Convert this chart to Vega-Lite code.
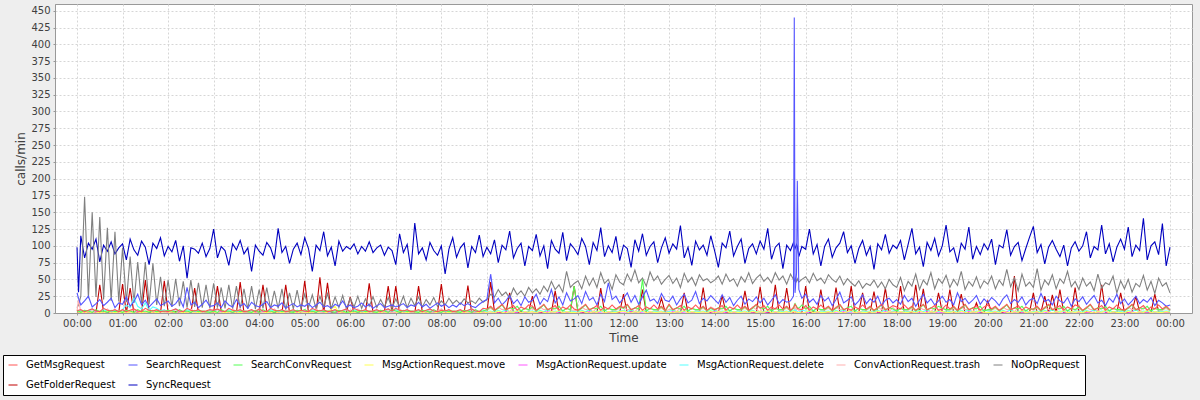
{
"$schema": "https://vega.github.io/schema/vega-lite/v6.json",
"width": 1137, "height": 309,
"autosize": {"type": "none"},
"padding": {"left": 55, "top": 4, "right": 8, "bottom": 87},
"background": "#eeeeee",
"config": {
  "view": {"fill": "white", "stroke": "#999999"},
  "font": "DejaVu Sans",
  "axis": {"labelFont": "DejaVu Sans", "labelFontSize": 10, "labelColor": "#404040", "titleFont": "DejaVu Sans", "titleFontSize": 12, "titleFontWeight": "normal", "titleColor": "#404040", "domainColor": "#999999", "tickColor": "#999999", "tickSize": 2, "gridColor": "#d6d6d6", "gridDash": [2, 2], "gridWidth": 1}
},
"datasets": {
"names": [
{"k":"g","name":"GetMsgRequest"},{"k":"q","name":"SearchRequest"},{"k":"c","name":"SearchConvRequest"},{"k":"y","name":"MsgActionRequest.move"},{"k":"u","name":"MsgActionRequest.update"},{"k":"d","name":"MsgActionRequest.delete"},{"k":"r","name":"ConvActionRequest.trash"},{"k":"n","name":"NoOpRequest"},{"k":"f","name":"GetFolderRequest"},{"k":"s","name":"SyncRequest"}
],
"rows": [
{"m":0,"s":98,"n":8,"q":30,"g":3,"f":1,"c":2,"y":0,"u":0,"d":2,"r":3},
{"m":2,"s":31,"n":12,"q":22,"g":4,"f":0,"c":3,"y":0,"u":0,"d":3,"r":20},
{"m":5,"s":115,"n":25,"q":12,"g":5,"f":0,"c":1,"y":1,"u":0,"d":4,"r":1},
{"m":10,"s":82,"n":173,"q":18,"g":2,"f":2,"c":4,"y":0,"u":1,"d":1,"r":4},
{"m":15,"s":104,"n":22,"q":25,"g":4,"f":0,"c":3,"y":2,"u":0,"d":3,"r":2},
{"m":20,"s":95,"n":150,"q":9,"g":6,"f":1,"c":1,"y":0,"u":0,"d":6,"r":5},
{"m":25,"s":110,"n":24,"q":14,"g":3,"f":0,"c":5,"y":0,"u":2,"d":2,"r":2},
{"m":30,"s":76,"n":143,"q":20,"g":2,"f":42,"c":2,"y":1,"u":0,"d":1,"r":3},
{"m":35,"s":101,"n":20,"q":11,"g":7,"f":1,"c":3,"y":0,"u":1,"d":5,"r":1},
{"m":40,"s":92,"n":127,"q":16,"g":4,"f":0,"c":1,"y":3,"u":0,"d":3,"r":6},
{"m":45,"s":106,"n":18,"q":22,"g":3,"f":2,"c":4,"y":0,"u":0,"d":2,"r":2},
{"m":50,"s":88,"n":121,"q":8,"g":5,"f":0,"c":2,"y":1,"u":1,"d":4,"r":4},
{"m":55,"s":97,"n":17,"q":15,"g":2,"f":1,"c":3,"y":0,"u":0,"d":1,"r":3},
{"m":60,"s":103,"n":97,"q":13,"g":5,"f":43,"c":1,"y":1,"u":0,"d":5,"r":1},
{"m":65,"s":79,"n":16,"q":24,"g":2,"f":0,"c":4,"y":0,"u":1,"d":12,"r":4},
{"m":70,"s":110,"n":84,"q":10,"g":4,"f":37,"c":3,"y":2,"u":0,"d":8,"r":2},
{"m":75,"s":94,"n":15,"q":17,"g":6,"f":0,"c":1,"y":0,"u":0,"d":22,"r":5},
{"m":80,"s":86,"n":76,"q":28,"g":3,"f":1,"c":5,"y":0,"u":2,"d":10,"r":2},
{"m":85,"s":107,"n":14,"q":12,"g":2,"f":0,"c":2,"y":1,"u":0,"d":6,"r":3},
{"m":90,"s":98,"n":76,"q":19,"g":7,"f":49,"c":3,"y":0,"u":1,"d":15,"r":1},
{"m":95,"s":72,"n":13,"q":9,"g":4,"f":1,"c":1,"y":3,"u":0,"d":4,"r":6},
{"m":100,"s":104,"n":74,"q":15,"g":3,"f":0,"c":4,"y":0,"u":0,"d":9,"r":2},
{"m":105,"s":96,"n":12,"q":21,"g":5,"f":2,"c":2,"y":1,"u":1,"d":7,"r":4},
{"m":110,"s":112,"n":54,"q":11,"g":2,"f":0,"c":3,"y":0,"u":0,"d":3,"r":3},
{"m":115,"s":85,"n":10,"q":14,"g":3,"f":48,"c":2,"y":0,"u":0,"d":5,"r":3},
{"m":120,"s":99,"n":49,"q":18,"g":2,"f":1,"c":4,"y":0,"u":1,"d":1,"r":4},
{"m":125,"s":91,"n":9,"q":10,"g":4,"f":0,"c":3,"y":2,"u":0,"d":3,"r":2},
{"m":130,"s":108,"n":51,"q":14,"g":6,"f":2,"c":1,"y":0,"u":0,"d":6,"r":5},
{"m":135,"s":77,"n":10,"q":22,"g":3,"f":0,"c":5,"y":0,"u":2,"d":2,"r":2},
{"m":140,"s":100,"n":47,"q":9,"g":2,"f":1,"c":2,"y":1,"u":0,"d":1,"r":3},
{"m":145,"s":52,"n":8,"q":38,"g":7,"f":0,"c":3,"y":0,"u":1,"d":5,"r":1},
{"m":150,"s":97,"n":49,"q":12,"g":4,"f":0,"c":1,"y":3,"u":0,"d":3,"r":6},
{"m":155,"s":95,"n":9,"q":16,"g":3,"f":37,"c":4,"y":0,"u":0,"d":2,"r":2},
{"m":160,"s":89,"n":45,"q":8,"g":5,"f":0,"c":2,"y":1,"u":1,"d":4,"r":4},
{"m":165,"s":104,"n":8,"q":13,"g":2,"f":2,"c":3,"y":0,"u":0,"d":1,"r":3},
{"m":170,"s":84,"n":42,"q":19,"g":3,"f":0,"c":2,"y":0,"u":0,"d":2,"r":3},
{"m":175,"s":96,"n":7,"q":10,"g":5,"f":1,"c":1,"y":1,"u":0,"d":4,"r":1},
{"m":180,"s":125,"n":44,"q":11,"g":4,"f":1,"c":3,"y":2,"u":0,"d":3,"r":2},
{"m":185,"s":82,"n":8,"q":15,"g":6,"f":40,"c":1,"y":0,"u":0,"d":6,"r":5},
{"m":190,"s":99,"n":38,"q":8,"g":3,"f":2,"c":5,"y":0,"u":2,"d":2,"r":2},
{"m":195,"s":93,"n":7,"q":18,"g":2,"f":0,"c":2,"y":1,"u":0,"d":1,"r":3},
{"m":200,"s":71,"n":42,"q":12,"g":7,"f":1,"c":3,"y":0,"u":1,"d":5,"r":1},
{"m":205,"s":103,"n":6,"q":9,"g":4,"f":0,"c":1,"y":3,"u":0,"d":3,"r":6},
{"m":210,"s":94,"n":40,"q":20,"g":3,"f":0,"c":4,"y":0,"u":0,"d":2,"r":2},
{"m":215,"s":108,"n":7,"q":10,"g":5,"f":46,"c":2,"y":1,"u":1,"d":4,"r":4},
{"m":220,"s":88,"n":36,"q":14,"g":2,"f":0,"c":3,"y":0,"u":0,"d":1,"r":3},
{"m":225,"s":97,"n":6,"q":7,"g":3,"f":2,"c":2,"y":0,"u":0,"d":2,"r":3},
{"m":230,"s":62,"n":40,"q":16,"g":5,"f":0,"c":1,"y":1,"u":0,"d":4,"r":1},
{"m":235,"s":101,"n":6,"q":11,"g":2,"f":1,"c":4,"y":0,"u":1,"d":1,"r":4},
{"m":240,"s":92,"n":35,"q":9,"g":6,"f":1,"c":1,"y":0,"u":0,"d":6,"r":5},
{"m":245,"s":86,"n":7,"q":13,"g":3,"f":42,"c":5,"y":0,"u":2,"d":2,"r":2},
{"m":250,"s":105,"n":38,"q":17,"g":2,"f":2,"c":2,"y":1,"u":0,"d":1,"r":3},
{"m":255,"s":97,"n":6,"q":8,"g":7,"f":0,"c":3,"y":0,"u":1,"d":5,"r":1},
{"m":260,"s":80,"n":33,"q":12,"g":4,"f":1,"c":1,"y":3,"u":0,"d":3,"r":6},
{"m":265,"s":126,"n":7,"q":10,"g":3,"f":0,"c":4,"y":0,"u":0,"d":2,"r":2},
{"m":270,"s":90,"n":36,"q":15,"g":5,"f":0,"c":2,"y":1,"u":1,"d":4,"r":4},
{"m":275,"s":99,"n":5,"q":7,"g":2,"f":42,"c":3,"y":0,"u":0,"d":1,"r":3},
{"m":280,"s":74,"n":30,"q":11,"g":3,"f":0,"c":2,"y":0,"u":0,"d":2,"r":3},
{"m":285,"s":95,"n":6,"q":14,"g":5,"f":2,"c":1,"y":1,"u":0,"d":4,"r":1},
{"m":290,"s":104,"n":34,"q":9,"g":2,"f":0,"c":4,"y":0,"u":1,"d":1,"r":4},
{"m":295,"s":87,"n":6,"q":12,"g":4,"f":1,"c":3,"y":2,"u":0,"d":3,"r":2},
{"m":300,"s":112,"n":28,"q":10,"g":3,"f":48,"c":5,"y":0,"u":2,"d":2,"r":2},
{"m":305,"s":96,"n":8,"q":14,"g":2,"f":0,"c":2,"y":1,"u":0,"d":1,"r":3},
{"m":310,"s":62,"n":27,"q":8,"g":7,"f":2,"c":3,"y":0,"u":1,"d":5,"r":1},
{"m":315,"s":101,"n":6,"q":12,"g":4,"f":0,"c":1,"y":3,"u":0,"d":3,"r":6},
{"m":320,"s":93,"n":25,"q":16,"g":3,"f":53,"c":4,"y":0,"u":0,"d":2,"r":2},
{"m":325,"s":121,"n":9,"q":9,"g":5,"f":0,"c":2,"y":0,"u":1,"d":4,"r":4},
{"m":330,"s":85,"n":29,"q":11,"g":2,"f":45,"c":3,"y":1,"u":0,"d":1,"r":3},
{"m":335,"s":98,"n":7,"q":7,"g":3,"f":1,"c":2,"y":6,"u":0,"d":2,"r":3},
{"m":340,"s":70,"n":24,"q":13,"g":5,"f":0,"c":1,"y":10,"u":0,"d":4,"r":1},
{"m":345,"s":107,"n":8,"q":10,"g":2,"f":2,"c":4,"y":0,"u":1,"d":1,"r":4},
{"m":350,"s":92,"n":26,"q":18,"g":4,"f":0,"c":3,"y":2,"u":0,"d":3,"r":2},
{"m":355,"s":99,"n":6,"q":9,"g":6,"f":1,"c":1,"y":0,"u":0,"d":6,"r":5},
{"m":360,"s":95,"n":22,"q":12,"g":2,"f":24,"c":2,"y":1,"u":0,"d":1,"r":3},
{"m":365,"s":103,"n":9,"q":8,"g":7,"f":0,"c":3,"y":0,"u":1,"d":5,"r":1},
{"m":370,"s":88,"n":25,"q":10,"g":4,"f":2,"c":1,"y":3,"u":0,"d":3,"r":6},
{"m":375,"s":99,"n":7,"q":15,"g":3,"f":0,"c":4,"y":0,"u":0,"d":2,"r":2},
{"m":380,"s":92,"n":21,"q":9,"g":5,"f":1,"c":2,"y":1,"u":1,"d":4,"r":4},
{"m":385,"s":106,"n":10,"q":13,"g":2,"f":44,"c":3,"y":0,"u":0,"d":1,"r":3},
{"m":390,"s":90,"n":24,"q":7,"g":3,"f":0,"c":2,"y":0,"u":0,"d":2,"r":3},
{"m":395,"s":97,"n":8,"q":11,"g":5,"f":1,"c":1,"y":1,"u":0,"d":4,"r":1},
{"m":400,"s":101,"n":20,"q":14,"g":2,"f":0,"c":4,"y":0,"u":1,"d":1,"r":4},
{"m":405,"s":86,"n":9,"q":8,"g":4,"f":2,"c":3,"y":2,"u":0,"d":3,"r":2},
{"m":410,"s":98,"n":23,"q":10,"g":6,"f":40,"c":1,"y":0,"u":2,"d":6,"r":5},
{"m":415,"s":93,"n":7,"q":12,"g":3,"f":1,"c":5,"y":0,"u":0,"d":2,"r":2},
{"m":420,"s":72,"n":21,"q":9,"g":7,"f":40,"c":3,"y":0,"u":1,"d":5,"r":1},
{"m":425,"s":118,"n":10,"q":11,"g":4,"f":0,"c":1,"y":3,"u":0,"d":3,"r":6},
{"m":430,"s":90,"n":25,"q":14,"g":3,"f":2,"c":4,"y":0,"u":0,"d":2,"r":2},
{"m":435,"s":102,"n":8,"q":8,"g":5,"f":0,"c":2,"y":1,"u":1,"d":4,"r":4},
{"m":440,"s":64,"n":22,"q":12,"g":2,"f":1,"c":3,"y":0,"u":0,"d":1,"r":3},
{"m":445,"s":134,"n":11,"q":10,"g":3,"f":0,"c":2,"y":0,"u":0,"d":2,"r":3},
{"m":450,"s":88,"n":24,"q":16,"g":5,"f":40,"c":1,"y":1,"u":0,"d":4,"r":1},
{"m":455,"s":97,"n":9,"q":9,"g":2,"f":1,"c":4,"y":0,"u":1,"d":1,"r":4},
{"m":460,"s":79,"n":20,"q":13,"g":4,"f":0,"c":3,"y":2,"u":0,"d":3,"r":2},
{"m":465,"s":105,"n":12,"q":7,"g":6,"f":2,"c":1,"y":0,"u":2,"d":6,"r":5},
{"m":470,"s":93,"n":23,"q":11,"g":3,"f":0,"c":5,"y":0,"u":0,"d":2,"r":2},
{"m":475,"s":86,"n":10,"q":15,"g":2,"f":1,"c":2,"y":1,"u":0,"d":1,"r":3},
{"m":480,"s":100,"n":18,"q":10,"g":4,"f":43,"c":1,"y":3,"u":0,"d":3,"r":6},
{"m":485,"s":58,"n":12,"q":13,"g":3,"f":0,"c":4,"y":0,"u":0,"d":2,"r":2},
{"m":490,"s":95,"n":22,"q":8,"g":5,"f":2,"c":2,"y":1,"u":1,"d":4,"r":4},
{"m":495,"s":112,"n":14,"q":12,"g":2,"f":0,"c":3,"y":0,"u":0,"d":1,"r":3},
{"m":500,"s":83,"n":19,"q":9,"g":3,"f":1,"c":2,"y":0,"u":0,"d":2,"r":3},
{"m":505,"s":97,"n":13,"q":15,"g":5,"f":0,"c":1,"y":1,"u":0,"d":4,"r":1},
{"m":510,"s":104,"n":21,"q":11,"g":2,"f":0,"c":4,"y":0,"u":1,"d":1,"r":4},
{"m":515,"s":67,"n":15,"q":14,"g":4,"f":41,"c":3,"y":2,"u":0,"d":3,"r":2},
{"m":520,"s":99,"n":18,"q":10,"g":6,"f":0,"c":1,"y":0,"u":2,"d":6,"r":5},
{"m":525,"s":90,"n":14,"q":8,"g":3,"f":2,"c":5,"y":0,"u":0,"d":2,"r":2},
{"m":530,"s":116,"n":22,"q":13,"g":2,"f":0,"c":2,"y":1,"u":0,"d":1,"r":3},
{"m":535,"s":84,"n":16,"q":17,"g":7,"f":1,"c":3,"y":0,"u":1,"d":5,"r":1},
{"m":540,"s":98,"n":20,"q":20,"g":6,"f":1,"c":5,"y":1,"u":0,"d":2,"r":4},
{"m":545,"s":88,"n":28,"q":58,"g":10,"f":46,"c":9,"y":2,"u":0,"d":3,"r":7},
{"m":550,"s":109,"n":24,"q":15,"g":4,"f":2,"c":3,"y":0,"u":1,"d":1,"r":3},
{"m":555,"s":75,"n":35,"q":22,"g":8,"f":0,"c":7,"y":3,"u":0,"d":4,"r":9},
{"m":560,"s":101,"n":26,"q":12,"g":13,"f":1,"c":12,"y":1,"u":0,"d":2,"r":5},
{"m":565,"s":94,"n":31,"q":18,"g":5,"f":0,"c":4,"y":0,"u":2,"d":5,"r":6},
{"m":570,"s":122,"n":22,"q":26,"g":7,"f":30,"c":8,"y":2,"u":0,"d":1,"r":2},
{"m":575,"s":82,"n":37,"q":14,"g":11,"f":1,"c":6,"y":1,"u":1,"d":3,"r":8},
{"m":580,"s":96,"n":27,"q":20,"g":4,"f":0,"c":10,"y":4,"u":0,"d":2,"r":5},
{"m":585,"s":104,"n":33,"q":11,"g":9,"f":2,"c":3,"y":0,"u":0,"d":4,"r":3},
{"m":590,"s":70,"n":25,"q":24,"g":6,"f":0,"c":7,"y":2,"u":1,"d":1,"r":7},
{"m":595,"s":99,"n":38,"q":16,"g":12,"f":1,"c":5,"y":1,"u":0,"d":3,"r":4},
{"m":600,"s":93,"n":30,"q":19,"g":10,"f":25,"c":9,"y":2,"u":0,"d":3,"r":7},
{"m":605,"s":117,"n":36,"q":28,"g":4,"f":1,"c":3,"y":0,"u":1,"d":1,"r":3},
{"m":610,"s":85,"n":28,"q":13,"g":8,"f":0,"c":7,"y":3,"u":0,"d":4,"r":9},
{"m":615,"s":100,"n":40,"q":22,"g":13,"f":2,"c":12,"y":1,"u":0,"d":2,"r":5},
{"m":620,"s":66,"n":32,"q":17,"g":5,"f":0,"c":4,"y":0,"u":2,"d":5,"r":6},
{"m":625,"s":108,"n":47,"q":35,"g":7,"f":1,"c":8,"y":2,"u":0,"d":1,"r":2},
{"m":630,"s":95,"n":35,"q":15,"g":11,"f":33,"c":6,"y":1,"u":1,"d":3,"r":8},
{"m":635,"s":89,"n":42,"q":24,"g":4,"f":0,"c":10,"y":4,"u":0,"d":2,"r":5},
{"m":640,"s":120,"n":31,"q":12,"g":9,"f":1,"c":3,"y":0,"u":0,"d":4,"r":3},
{"m":645,"s":78,"n":62,"q":30,"g":6,"f":0,"c":7,"y":2,"u":1,"d":1,"r":7},
{"m":650,"s":103,"n":38,"q":18,"g":12,"f":2,"c":5,"y":1,"u":0,"d":3,"r":4},
{"m":655,"s":96,"n":44,"q":21,"g":6,"f":40,"c":40,"y":1,"u":0,"d":2,"r":4},
{"m":660,"s":87,"n":48,"q":26,"g":4,"f":1,"c":3,"y":0,"u":1,"d":1,"r":3},
{"m":665,"s":111,"n":36,"q":14,"g":8,"f":0,"c":7,"y":3,"u":0,"d":4,"r":9},
{"m":670,"s":99,"n":55,"q":32,"g":13,"f":2,"c":12,"y":1,"u":0,"d":2,"r":5},
{"m":675,"s":72,"n":41,"q":19,"g":5,"f":0,"c":4,"y":0,"u":2,"d":5,"r":6},
{"m":680,"s":105,"n":52,"q":23,"g":7,"f":1,"c":8,"y":2,"u":0,"d":1,"r":2},
{"m":685,"s":93,"n":38,"q":12,"g":11,"f":0,"c":6,"y":1,"u":1,"d":3,"r":8},
{"m":690,"s":127,"n":60,"q":28,"g":4,"f":37,"c":10,"y":4,"u":0,"d":2,"r":5},
{"m":695,"s":84,"n":44,"q":17,"g":9,"f":1,"c":3,"y":0,"u":0,"d":4,"r":3},
{"m":700,"s":100,"n":50,"q":45,"g":6,"f":0,"c":7,"y":2,"u":1,"d":1,"r":7},
{"m":705,"s":90,"n":35,"q":20,"g":12,"f":2,"c":5,"y":1,"u":0,"d":3,"r":4},
{"m":710,"s":114,"n":57,"q":25,"g":6,"f":0,"c":5,"y":1,"u":0,"d":2,"r":4},
{"m":715,"s":78,"n":46,"q":15,"g":10,"f":1,"c":9,"y":2,"u":0,"d":3,"r":7},
{"m":720,"s":101,"n":42,"q":22,"g":8,"f":28,"c":7,"y":3,"u":0,"d":4,"r":9},
{"m":725,"s":96,"n":58,"q":30,"g":13,"f":0,"c":12,"y":1,"u":0,"d":2,"r":5},
{"m":730,"s":68,"n":47,"q":16,"g":5,"f":2,"c":4,"y":0,"u":2,"d":5,"r":6},
{"m":735,"s":109,"n":64,"q":26,"g":7,"f":0,"c":8,"y":2,"u":0,"d":1,"r":2},
{"m":740,"s":92,"n":45,"q":13,"g":11,"f":1,"c":6,"y":1,"u":1,"d":3,"r":8},
{"m":745,"s":118,"n":52,"q":24,"g":4,"f":35,"c":50,"y":4,"u":0,"d":2,"r":5},
{"m":750,"s":86,"n":40,"q":34,"g":9,"f":0,"c":3,"y":0,"u":0,"d":4,"r":3},
{"m":755,"s":99,"n":61,"q":18,"g":6,"f":1,"c":7,"y":2,"u":1,"d":1,"r":7},
{"m":760,"s":106,"n":48,"q":21,"g":12,"f":0,"c":5,"y":1,"u":0,"d":3,"r":4},
{"m":765,"s":75,"n":55,"q":14,"g":6,"f":2,"c":5,"y":1,"u":0,"d":2,"r":4},
{"m":770,"s":97,"n":43,"q":29,"g":10,"f":22,"c":9,"y":2,"u":0,"d":3,"r":7},
{"m":775,"s":112,"n":50,"q":19,"g":4,"f":1,"c":3,"y":0,"u":1,"d":1,"r":3},
{"m":780,"s":89,"n":56,"q":17,"g":13,"f":1,"c":12,"y":1,"u":0,"d":2,"r":5},
{"m":785,"s":103,"n":44,"q":25,"g":5,"f":0,"c":4,"y":0,"u":2,"d":5,"r":6},
{"m":790,"s":95,"n":52,"q":12,"g":7,"f":2,"c":8,"y":2,"u":0,"d":1,"r":2},
{"m":795,"s":130,"n":38,"q":21,"g":11,"f":0,"c":6,"y":1,"u":1,"d":3,"r":8},
{"m":800,"s":82,"n":59,"q":28,"g":4,"f":30,"c":10,"y":4,"u":0,"d":2,"r":5},
{"m":805,"s":98,"n":46,"q":15,"g":9,"f":0,"c":3,"y":0,"u":0,"d":4,"r":3},
{"m":810,"s":71,"n":53,"q":19,"g":6,"f":0,"c":7,"y":2,"u":1,"d":1,"r":7},
{"m":815,"s":107,"n":41,"q":32,"g":12,"f":1,"c":5,"y":1,"u":0,"d":3,"r":4},
{"m":820,"s":94,"n":57,"q":14,"g":6,"f":0,"c":5,"y":1,"u":0,"d":2,"r":4},
{"m":825,"s":101,"n":48,"q":22,"g":10,"f":38,"c":9,"y":2,"u":0,"d":3,"r":7},
{"m":830,"s":86,"n":51,"q":18,"g":4,"f":0,"c":3,"y":0,"u":1,"d":1,"r":3},
{"m":835,"s":115,"n":45,"q":26,"g":8,"f":1,"c":7,"y":3,"u":0,"d":4,"r":9},
{"m":840,"s":93,"n":49,"q":20,"g":5,"f":1,"c":4,"y":0,"u":2,"d":5,"r":6},
{"m":845,"s":68,"n":55,"q":14,"g":7,"f":0,"c":8,"y":2,"u":0,"d":1,"r":2},
{"m":850,"s":104,"n":43,"q":27,"g":11,"f":26,"c":6,"y":1,"u":1,"d":3,"r":8},
{"m":855,"s":97,"n":58,"q":16,"g":4,"f":0,"c":10,"y":4,"u":0,"d":2,"r":5},
{"m":860,"s":122,"n":47,"q":23,"g":9,"f":1,"c":3,"y":0,"u":0,"d":4,"r":3},
{"m":865,"s":85,"n":51,"q":11,"g":6,"f":0,"c":7,"y":2,"u":1,"d":1,"r":7},
{"m":870,"s":99,"n":40,"q":19,"g":12,"f":0,"c":5,"y":1,"u":0,"d":3,"r":4},
{"m":875,"s":110,"n":54,"q":25,"g":6,"f":1,"c":5,"y":1,"u":0,"d":2,"r":4},
{"m":880,"s":74,"n":46,"q":13,"g":10,"f":33,"c":9,"y":2,"u":0,"d":3,"r":7},
{"m":885,"s":96,"n":60,"q":21,"g":4,"f":2,"c":3,"y":0,"u":1,"d":1,"r":3},
{"m":890,"s":103,"n":44,"q":17,"g":8,"f":0,"c":7,"y":3,"u":0,"d":4,"r":9},
{"m":895,"s":88,"n":52,"q":24,"g":13,"f":1,"c":12,"y":1,"u":0,"d":2,"r":5},
{"m":900,"s":107,"n":57,"q":15,"g":7,"f":39,"c":8,"y":2,"u":0,"d":1,"r":2},
{"m":905,"s":95,"n":47,"q":22,"g":11,"f":0,"c":6,"y":1,"u":1,"d":3,"r":8},
{"m":910,"s":126,"n":53,"q":12,"g":4,"f":1,"c":10,"y":4,"u":0,"d":2,"r":5},
{"m":915,"s":80,"n":45,"q":19,"g":9,"f":0,"c":3,"y":0,"u":0,"d":4,"r":3},
{"m":920,"s":98,"n":60,"q":27,"g":6,"f":42,"c":7,"y":2,"u":1,"d":1,"r":7},
{"m":925,"s":104,"n":49,"q":14,"g":12,"f":0,"c":5,"y":1,"u":0,"d":3,"r":4},
{"m":930,"s":66,"n":55,"q":20,"g":6,"f":1,"c":5,"y":1,"u":0,"d":2,"r":4},
{"m":935,"s":101,"n":43,"q":16,"g":10,"f":37,"c":9,"y":2,"u":0,"d":3,"r":7},
{"m":940,"s":93,"n":58,"q":18,"g":4,"f":0,"c":3,"y":0,"u":1,"d":1,"r":3},
{"m":944,"s":105,"n":50,"q":25,"g":8,"f":1,"c":7,"y":3,"u":0,"d":4,"r":9},
{"m":945,"s":100,"n":48,"q":440,"g":10,"f":0,"c":12,"y":1,"u":0,"d":2,"r":6},
{"m":946,"s":96,"n":52,"q":30,"g":13,"f":2,"c":14,"y":2,"u":2,"d":5,"r":8},
{"m":948,"s":102,"n":47,"q":60,"g":9,"f":0,"c":10,"y":1,"u":0,"d":3,"r":5},
{"m":949,"s":99,"n":51,"q":197,"g":7,"f":1,"c":8,"y":0,"u":1,"d":2,"r":6},
{"m":951,"s":84,"n":46,"q":35,"g":6,"f":0,"c":7,"y":1,"u":0,"d":1,"r":4},
{"m":955,"s":99,"n":50,"q":22,"g":5,"f":1,"c":12,"y":0,"u":0,"d":4,"r":5},
{"m":960,"s":95,"n":54,"q":28,"g":11,"f":40,"c":6,"y":1,"u":1,"d":3,"r":8},
{"m":965,"s":125,"n":45,"q":16,"g":4,"f":0,"c":10,"y":4,"u":0,"d":2,"r":5},
{"m":970,"s":88,"n":59,"q":21,"g":9,"f":2,"c":3,"y":0,"u":0,"d":4,"r":3},
{"m":975,"s":102,"n":48,"q":13,"g":6,"f":0,"c":7,"y":2,"u":1,"d":1,"r":7},
{"m":980,"s":70,"n":52,"q":26,"g":12,"f":35,"c":5,"y":1,"u":0,"d":3,"r":4},
{"m":985,"s":99,"n":44,"q":18,"g":6,"f":0,"c":5,"y":1,"u":0,"d":2,"r":4},
{"m":990,"s":110,"n":57,"q":23,"g":10,"f":0,"c":9,"y":2,"u":0,"d":3,"r":7},
{"m":995,"s":83,"n":50,"q":11,"g":4,"f":1,"c":3,"y":0,"u":1,"d":1,"r":3},
{"m":1000,"s":97,"n":46,"q":20,"g":8,"f":38,"c":7,"y":3,"u":0,"d":4,"r":9},
{"m":1005,"s":104,"n":55,"q":31,"g":13,"f":2,"c":12,"y":1,"u":0,"d":2,"r":5},
{"m":1010,"s":121,"n":42,"q":15,"g":5,"f":0,"c":4,"y":0,"u":2,"d":5,"r":6},
{"m":1015,"s":90,"n":51,"q":19,"g":7,"f":1,"c":8,"y":2,"u":0,"d":1,"r":2},
{"m":1020,"s":100,"n":45,"q":24,"g":4,"f":40,"c":10,"y":4,"u":0,"d":2,"r":5},
{"m":1025,"s":74,"n":40,"q":12,"g":9,"f":0,"c":3,"y":0,"u":0,"d":4,"r":3},
{"m":1030,"s":96,"n":48,"q":18,"g":6,"f":1,"c":7,"y":2,"u":1,"d":1,"r":7},
{"m":1035,"s":108,"n":37,"q":27,"g":12,"f":30,"c":5,"y":1,"u":0,"d":3,"r":4},
{"m":1040,"s":86,"n":44,"q":14,"g":6,"f":0,"c":5,"y":1,"u":0,"d":2,"r":4},
{"m":1045,"s":99,"n":41,"q":21,"g":10,"f":1,"c":9,"y":2,"u":0,"d":3,"r":7},
{"m":1050,"s":65,"n":49,"q":16,"g":4,"f":32,"c":3,"y":0,"u":1,"d":1,"r":3},
{"m":1055,"s":103,"n":38,"q":25,"g":8,"f":0,"c":7,"y":3,"u":0,"d":4,"r":9},
{"m":1060,"s":94,"n":46,"q":11,"g":13,"f":1,"c":12,"y":1,"u":0,"d":2,"r":5},
{"m":1065,"s":117,"n":36,"q":19,"g":5,"f":37,"c":4,"y":0,"u":2,"d":5,"r":6},
{"m":1070,"s":89,"n":50,"q":22,"g":7,"f":0,"c":8,"y":2,"u":0,"d":1,"r":2},
{"m":1075,"s":101,"n":42,"q":15,"g":11,"f":1,"c":6,"y":1,"u":1,"d":3,"r":8},
{"m":1080,"s":96,"n":38,"q":20,"g":9,"f":1,"c":3,"y":0,"u":0,"d":4,"r":3},
{"m":1085,"s":108,"n":53,"q":13,"g":6,"f":40,"c":7,"y":2,"u":1,"d":1,"r":7},
{"m":1090,"s":79,"n":33,"q":26,"g":12,"f":0,"c":5,"y":1,"u":0,"d":3,"r":4},
{"m":1095,"s":102,"n":47,"q":17,"g":6,"f":2,"c":5,"y":1,"u":0,"d":2,"r":4},
{"m":1100,"s":126,"n":40,"q":22,"g":10,"f":0,"c":9,"y":2,"u":0,"d":3,"r":7},
{"m":1105,"s":88,"n":58,"q":10,"g":4,"f":42,"c":3,"y":0,"u":1,"d":1,"r":3},
{"m":1110,"s":98,"n":35,"q":19,"g":8,"f":1,"c":7,"y":3,"u":0,"d":4,"r":9},
{"m":1115,"s":69,"n":49,"q":28,"g":13,"f":36,"c":12,"y":1,"u":0,"d":2,"r":5},
{"m":1120,"s":105,"n":42,"q":15,"g":5,"f":0,"c":4,"y":0,"u":2,"d":5,"r":6},
{"m":1125,"s":93,"n":60,"q":21,"g":7,"f":1,"c":8,"y":2,"u":0,"d":1,"r":2},
{"m":1130,"s":111,"n":36,"q":12,"g":11,"f":0,"c":6,"y":1,"u":1,"d":3,"r":8},
{"m":1135,"s":85,"n":51,"q":18,"g":4,"f":30,"c":10,"y":4,"u":0,"d":2,"r":5},
{"m":1140,"s":100,"n":44,"q":25,"g":6,"f":1,"c":7,"y":2,"u":1,"d":1,"r":7},
{"m":1145,"s":131,"n":56,"q":16,"g":12,"f":0,"c":5,"y":1,"u":0,"d":3,"r":4},
{"m":1150,"s":91,"n":38,"q":20,"g":6,"f":35,"c":5,"y":1,"u":0,"d":2,"r":4},
{"m":1155,"s":97,"n":50,"q":12,"g":10,"f":0,"c":9,"y":2,"u":0,"d":3,"r":7},
{"m":1160,"s":75,"n":41,"q":30,"g":4,"f":1,"c":3,"y":0,"u":1,"d":1,"r":3},
{"m":1165,"s":104,"n":62,"q":17,"g":8,"f":28,"c":7,"y":3,"u":0,"d":4,"r":9},
{"m":1170,"s":95,"n":35,"q":22,"g":13,"f":0,"c":12,"y":1,"u":0,"d":2,"r":5},
{"m":1175,"s":128,"n":47,"q":14,"g":5,"f":1,"c":4,"y":0,"u":2,"d":5,"r":6},
{"m":1180,"s":80,"n":40,"q":19,"g":7,"f":0,"c":8,"y":2,"u":0,"d":1,"r":2},
{"m":1185,"s":99,"n":54,"q":26,"g":11,"f":15,"c":6,"y":1,"u":1,"d":3,"r":8},
{"m":1190,"s":87,"n":37,"q":13,"g":4,"f":0,"c":10,"y":4,"u":0,"d":2,"r":5},
{"m":1195,"s":103,"n":48,"q":21,"g":9,"f":1,"c":3,"y":0,"u":0,"d":4,"r":3},
{"m":1200,"s":94,"n":43,"q":15,"g":12,"f":18,"c":5,"y":1,"u":0,"d":3,"r":4},
{"m":1205,"s":110,"n":55,"q":23,"g":6,"f":0,"c":5,"y":1,"u":0,"d":2,"r":4},
{"m":1210,"s":72,"n":36,"q":18,"g":10,"f":2,"c":9,"y":2,"u":1,"d":3,"r":7},
{"m":1215,"s":101,"n":49,"q":11,"g":4,"f":0,"c":3,"y":0,"u":0,"d":1,"r":3},
{"m":1220,"s":97,"n":41,"q":21,"g":8,"f":1,"c":7,"y":3,"u":0,"d":4,"r":9},
{"m":1225,"s":124,"n":65,"q":27,"g":13,"f":0,"c":12,"y":1,"u":2,"d":2,"r":5},
{"m":1230,"s":86,"n":39,"q":14,"g":5,"f":0,"c":4,"y":0,"u":0,"d":5,"r":6},
{"m":1235,"s":99,"n":52,"q":20,"g":7,"f":55,"c":8,"y":2,"u":1,"d":1,"r":2},
{"m":1240,"s":105,"n":33,"q":16,"g":11,"f":0,"c":6,"y":1,"u":0,"d":3,"r":8},
{"m":1245,"s":78,"n":58,"q":24,"g":4,"f":2,"c":10,"y":4,"u":0,"d":2,"r":5},
{"m":1250,"s":96,"n":40,"q":12,"g":9,"f":0,"c":3,"y":0,"u":1,"d":4,"r":3},
{"m":1255,"s":113,"n":46,"q":19,"g":6,"f":1,"c":7,"y":2,"u":0,"d":1,"r":7},
{"m":1260,"s":129,"n":38,"q":22,"g":6,"f":30,"c":5,"y":1,"u":0,"d":2,"r":4},
{"m":1265,"s":90,"n":66,"q":14,"g":10,"f":0,"c":9,"y":2,"u":1,"d":3,"r":7},
{"m":1270,"s":102,"n":34,"q":29,"g":4,"f":1,"c":3,"y":0,"u":0,"d":1,"r":3},
{"m":1275,"s":73,"n":49,"q":17,"g":8,"f":25,"c":7,"y":3,"u":0,"d":4,"r":9},
{"m":1280,"s":98,"n":42,"q":20,"g":13,"f":0,"c":12,"y":1,"u":2,"d":2,"r":5},
{"m":1285,"s":108,"n":57,"q":12,"g":5,"f":27,"c":4,"y":0,"u":0,"d":5,"r":6},
{"m":1290,"s":95,"n":36,"q":25,"g":7,"f":1,"c":8,"y":2,"u":1,"d":1,"r":2},
{"m":1295,"s":84,"n":51,"q":18,"g":11,"f":35,"c":6,"y":1,"u":0,"d":3,"r":8},
{"m":1300,"s":101,"n":44,"q":15,"g":4,"f":0,"c":10,"y":4,"u":0,"d":2,"r":5},
{"m":1305,"s":70,"n":62,"q":23,"g":9,"f":1,"c":3,"y":0,"u":1,"d":4,"r":3},
{"m":1310,"s":97,"n":39,"q":10,"g":6,"f":0,"c":7,"y":2,"u":0,"d":1,"r":7},
{"m":1315,"s":106,"n":47,"q":21,"g":12,"f":38,"c":5,"y":1,"u":0,"d":3,"r":4},
{"m":1320,"s":92,"n":35,"q":17,"g":10,"f":1,"c":9,"y":2,"u":1,"d":3,"r":7},
{"m":1325,"s":100,"n":52,"q":24,"g":4,"f":0,"c":3,"y":0,"u":0,"d":1,"r":3},
{"m":1330,"s":121,"n":40,"q":13,"g":8,"f":2,"c":7,"y":3,"u":0,"d":4,"r":9},
{"m":1335,"s":82,"n":46,"q":20,"g":13,"f":0,"c":12,"y":1,"u":2,"d":2,"r":5},
{"m":1340,"s":99,"n":33,"q":26,"g":5,"f":1,"c":4,"y":0,"u":0,"d":5,"r":6},
{"m":1345,"s":94,"n":58,"q":15,"g":7,"f":0,"c":8,"y":2,"u":1,"d":1,"r":2},
{"m":1350,"s":131,"n":37,"q":19,"g":11,"f":42,"c":6,"y":1,"u":0,"d":3,"r":8},
{"m":1355,"s":88,"n":45,"q":11,"g":4,"f":1,"c":10,"y":4,"u":0,"d":2,"r":5},
{"m":1360,"s":103,"n":42,"q":22,"g":9,"f":0,"c":3,"y":0,"u":1,"d":4,"r":3},
{"m":1365,"s":76,"n":55,"q":16,"g":6,"f":2,"c":7,"y":2,"u":0,"d":1,"r":7},
{"m":1370,"s":98,"n":30,"q":28,"g":12,"f":0,"c":5,"y":1,"u":0,"d":3,"r":4},
{"m":1375,"s":110,"n":48,"q":14,"g":6,"f":30,"c":5,"y":1,"u":0,"d":2,"r":4},
{"m":1380,"s":95,"n":36,"q":21,"g":4,"f":1,"c":3,"y":0,"u":0,"d":1,"r":3},
{"m":1385,"s":128,"n":50,"q":12,"g":8,"f":0,"c":7,"y":3,"u":0,"d":4,"r":9},
{"m":1390,"s":84,"n":31,"q":18,"g":13,"f":2,"c":12,"y":1,"u":2,"d":2,"r":5},
{"m":1395,"s":101,"n":44,"q":25,"g":5,"f":25,"c":4,"y":0,"u":0,"d":5,"r":6},
{"m":1400,"s":93,"n":39,"q":14,"g":7,"f":1,"c":8,"y":2,"u":1,"d":1,"r":2},
{"m":1405,"s":141,"n":56,"q":20,"g":11,"f":0,"c":6,"y":1,"u":0,"d":3,"r":8},
{"m":1410,"s":79,"n":34,"q":16,"g":4,"f":0,"c":10,"y":4,"u":0,"d":2,"r":5},
{"m":1415,"s":100,"n":47,"q":23,"g":9,"f":1,"c":3,"y":0,"u":1,"d":4,"r":3},
{"m":1420,"s":106,"n":29,"q":11,"g":6,"f":28,"c":7,"y":2,"u":0,"d":1,"r":7},
{"m":1425,"s":87,"n":52,"q":19,"g":12,"f":2,"c":5,"y":1,"u":0,"d":3,"r":4},
{"m":1430,"s":133,"n":40,"q":15,"g":6,"f":0,"c":5,"y":1,"u":0,"d":2,"r":4},
{"m":1435,"s":70,"n":45,"q":10,"g":10,"f":1,"c":9,"y":2,"u":1,"d":3,"r":7},
{"m":1440,"s":98,"n":30,"q":12,"g":5,"f":1,"c":4,"y":1,"u":0,"d":2,"r":3}
]
},
"data": {"name": "rows"},
"transform": [
  {"fold": ["s", "f", "n", "r", "d", "u", "y", "c", "q", "g"], "as": ["k", "v"]},
  {"lookup": "k", "from": {"data": {"name": "names"}, "key": "k", "fields": ["name"]}}
],
"mark": {"type": "line", "strokeWidth": 1.1, "clip": true},
"encoding": {
  "x": {"field": "m", "type": "quantitative",
        "scale": {"domain": [-29, 1469], "nice": false, "zero": false},
        "axis": {"title": "Time", "values": [0,60,120,180,240,300,360,420,480,540,600,660,720,780,840,900,960,1020,1080,1140,1200,1260,1320,1380,1440],
                 "labelExpr": "pad(toString(floor(datum.value/60)%24), 2, '0', 'left') + ':00'",
                 "labelPadding": 3, "titlePadding": 4, "labelFlush": false, "labelOverlap": false}},
  "y": {"field": "v", "type": "quantitative",
        "scale": {"domain": [0, 460], "nice": false},
        "axis": {"title": "calls/min", "values": [0,25,50,75,100,125,150,175,200,225,250,275,300,325,350,375,400,425,450],
                 "labelPadding": 3, "titlePadding": 3, "labelOverlap": false}},
  "color": {"field": "name", "type": "nominal",
            "scale": {"domain": ["GetMsgRequest","SearchRequest","SearchConvRequest","MsgActionRequest.move","MsgActionRequest.update","MsgActionRequest.delete","ConvActionRequest.trash","NoOpRequest","GetFolderRequest","SyncRequest"],
                      "range": ["#ff5555","#5555ff","#55ff55","#ffff55","#ff55ff","#55ffff","#ffafaf","#808080","#c00000","#0000c0"]},
            "legend": {"title": null, "orient": "none", "legendX": -52, "legendY": 351, "direction": "horizontal", "columns": 8, "gridAlign": "none",
                       "symbolType": "stroke", "symbolSize": 81, "symbolStrokeWidth": 1, "labelFont": "DejaVu Sans", "labelFontSize": 10, "labelColor": "#000000",
                       "labelOffset": 8, "columnPadding": 10, "rowPadding": 10, "strokeColor": "#000000", "fillColor": "#ffffff", "padding": 5, "labelLimit": 300}}
}
}
